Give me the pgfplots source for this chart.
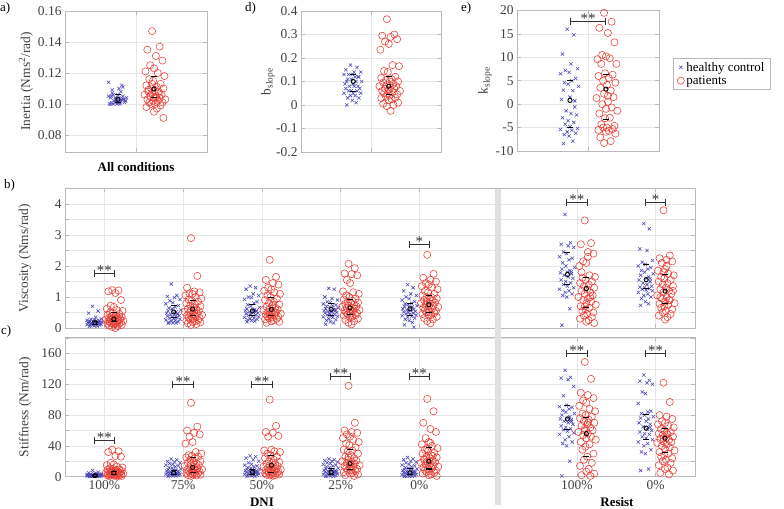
\documentclass[border=0pt]{standalone}
\usepackage{fontspec}
\setmainfont{Liberation Serif}
\usepackage{pgfplots}
\usepackage{pgfplotstable}
\pgfplotsset{compat=1.18}
\usetikzlibrary{arrows.meta}
\definecolor{hc}{RGB}{75,70,185}
\definecolor{ptc}{RGB}{232,60,50}
\definecolor{axgray}{RGB}{185,185,185}
\definecolor{gridgray}{RGB}{230,230,230}
\definecolor{txtgray}{RGB}{64,64,64}
\definecolor{sigc}{RGB}{50,50,50}

% healthy controls: one row per series (transposed below)
\pgfplotstableread[header=false,row sep=\\]{
dx -0.15 -0.08 -0.20 -0.11 -0.04 -0.17 -0.13 -0.22 -0.06 -0.10 -0.18 -0.14 -0.03 -0.19 -0.09 -0.12 -0.21 -0.07 -0.16 -0.11 -0.05 -0.20 -0.14 -0.08 -0.17 -0.12 -0.04 -0.22 -0.10 -0.15 -0.06 -0.18 -0.13 -0.09 -0.19 -0.07\\
ia 0.101 0.103 0.100 0.104 0.102 0.106 0.101 0.105 0.103 0.100 0.107 0.102 0.104 0.101 0.108 0.103 0.100 0.105 0.102 0.110 0.101 0.104 0.103 0.112 0.100 0.106 0.102 0.114 0.101 0.104 0.103 0.109 0.100 0.102 0.105 0.111\\
bs 0.17 0.16 0.15 0.14 0.14 0.13 0.13 0.13 0.12 0.12 0.11 0.11 0.10 0.10 0.10 0.09 0.09 0.08 0.08 0.08 0.07 0.07 0.06 0.06 0.06 0.05 0.05 0.05 0.04 0.04 0.03 0.03 0.02 0.01 0.00 0.12\\
ks 16.0 14.8 10.7 8.6 7.6 7.2 6.8 6.5 5.5 5.0 4.6 4.3 3.8 3.0 2.9 1.5 1.0 0.7 -1.4 -2.0 -2.3 -2.9 -3.5 -3.9 -4.3 -4.8 -5.2 -5.4 -5.6 -5.9 -6.2 -6.5 -6.8 -7.9 -8.4 -0.6\\
va 0.70 0.55 0.48 0.35 0.30 0.28 0.26 0.25 0.24 0.23 0.22 0.21 0.20 0.20 0.19 0.18 0.18 0.17 0.16 0.16 0.15 0.15 0.14 0.14 0.13 0.12 0.12 0.11 0.10 0.10 0.09 0.08 0.07 0.06 0.05 0.22\\
vb 1.42 1.05 1.02 0.98 0.92 0.88 0.82 0.78 0.72 0.68 0.65 0.62 0.58 0.55 0.52 0.50 0.48 0.46 0.44 0.42 0.40 0.38 0.36 0.34 0.32 0.30 0.28 0.26 0.24 0.22 0.20 0.18 0.17 0.16 0.15 0.45\\
vc 1.35 1.30 1.25 1.10 1.05 1.00 0.98 0.92 0.85 0.80 0.75 0.70 0.66 0.62 0.60 0.58 0.56 0.54 0.52 0.50 0.48 0.46 0.44 0.42 0.40 0.38 0.36 0.34 0.32 0.30 0.28 0.26 0.24 0.22 0.20 0.55\\
vd 1.28 1.25 1.00 0.95 0.90 0.85 0.82 0.78 0.75 0.72 0.70 0.68 0.65 0.62 0.60 0.58 0.56 0.55 0.53 0.51 0.50 0.48 0.46 0.44 0.42 0.40 0.38 0.36 0.34 0.30 0.27 0.24 0.20 0.16 0.12 0.60\\
ve 1.40 1.30 1.20 1.10 1.05 1.00 0.95 0.90 0.85 0.80 0.78 0.75 0.72 0.70 0.68 0.65 0.62 0.60 0.58 0.56 0.54 0.52 0.50 0.48 0.46 0.44 0.42 0.40 0.38 0.35 0.32 0.28 0.24 0.18 0.10 0.03\\
vf 3.66 2.75 2.70 2.65 2.60 2.45 2.40 2.30 2.25 2.20 2.10 2.00 1.95 1.90 1.85 1.80 1.78 1.75 1.70 1.65 1.60 1.55 1.50 1.45 1.40 1.35 1.30 1.25 1.20 1.15 1.10 1.05 1.00 0.62 0.09 1.82\\
vg 3.37 3.20 2.55 2.50 2.18 2.12 2.05 2.00 1.95 1.90 1.85 1.80 1.75 1.70 1.65 1.60 1.55 1.50 1.45 1.40 1.35 1.32 1.30 1.27 1.25 1.22 1.20 1.15 1.10 1.05 1.00 0.95 0.85 0.78 0.73 1.60\\
sa 8 6 5 4.5 4 3.5 3.2 3 2.8 2.6 2.4 2.2 2 2 1.8 1.8 1.6 1.6 1.5 1.4 1.4 1.3 1.2 1.2 1.1 1.0 1.0 0.9 0.8 0.8 0.7 0.6 0.5 0.4 0.3 1.5\\
sb 23 22 20 19 18 17 16 15 14 13 12 11 10 9 8.5 8 7.5 7 6.5 6 5.5 5 5 4.5 4 3.5 3 3 2.5 2 2 1.5 1 1 0.5 4\\
sc 27 26 24 22 20 18 16 15 14 13 12 11 10 9.5 9 8.5 8 7.5 7 6.5 6 5.5 5 5 4.5 4 3.5 3 2.5 2 2 1.5 1 0.5 0.5 6\\
sd 23 22 21 20 19 18 17 16 15 14 13 12 11 10 9.5 9 8.5 8 7.5 7 6.5 6 5.5 5 4.5 4 3.5 3 2.5 2 1.5 1 1 0.5 0.5 6\\
se 25 23 22 20 19 18 16 15 14 13 12 11 10 9.5 9 8.5 8 7.5 7 6.5 6 5.5 5 4.5 4 3.5 3 2.5 2 1.5 1 1 0.5 0.5 0.3 5\\
sf 138 129 128 126 117 105 93 91 90 88 86 84 82 80 78 76 75 74 72 70 68 66 64 62 61 59 57 55 52 48 45 43 40 20 1 72\\
sg 132 125 124 122 120 110 108 95 85 84 82 80 78 76 75 72 70 68 65 62 60 58 56 55 52 50 48 45 43 40 35 32 30 10 8 64\\
}\hcraw
\pgfplotstabletranspose[colnames from=0]\hctab\hcraw

% patients
\pgfplotstableread[header=false,row sep=\\]{
dx 0.10 0.18 0.05 0.14 0.21 0.08 0.12 0.03 0.16 0.23 0.07 0.11 0.19 0.04 0.15 0.09 0.22 0.13 0.06 0.17 0.10 0.20 0.02 0.14 0.08 0.18 0.12 0.24 0.05 0.16 0.11 0.07 0.21 0.13 0.09 0.19 0.04 0.15 0.12 0.22 0.06 0.17 0.10 0.14\\
ia 0.147 0.137 0.135 0.131 0.128 0.125 0.123 0.121 0.120 0.118 0.116 0.115 0.113 0.112 0.111 0.110 0.110 0.109 0.108 0.108 0.107 0.106 0.106 0.105 0.105 0.104 0.104 0.103 0.103 0.102 0.102 0.101 0.101 0.100 0.100 0.099 0.098 0.097 0.095 0.091 0.109 0.107 0.113 0.104\\
bs 0.365 0.30 0.295 0.29 0.28 0.27 0.26 0.235 0.17 0.165 0.145 0.14 0.12 0.115 0.11 0.105 0.10 0.10 0.095 0.09 0.085 0.08 0.08 0.075 0.07 0.07 0.065 0.06 0.06 0.055 0.05 0.05 0.045 0.04 0.035 0.03 0.03 0.025 0.02 0.01 0.005 0.0 -0.005 -0.025\\
ks 19.5 17.6 16.3 15.2 13.2 10.5 10.2 9.6 9.8 8.6 8.6 6.6 6.3 6.0 5.6 5.0 4.6 4.1 3.5 2.9 2.2 1.5 1.3 0.5 0.0 -0.7 -1.0 -1.4 -2.0 -2.9 -3.0 -4.3 -4.6 -5.0 -5.0 -5.3 -5.5 -5.7 -5.9 -6.3 -7.1 -7.9 -8.3 1.8\\
va 1.22 1.21 1.18 1.13 0.90 0.72 0.68 0.62 0.58 0.55 0.50 0.48 0.45 0.42 0.40 0.38 0.36 0.35 0.33 0.32 0.30 0.29 0.28 0.27 0.26 0.25 0.24 0.23 0.22 0.21 0.20 0.19 0.18 0.17 0.16 0.15 0.14 0.13 0.12 0.10 0.08 0.06 0.03 0.00\\
vb 2.90 1.68 1.30 1.18 1.15 1.12 1.10 1.05 1.00 0.95 0.92 0.88 0.85 0.80 0.76 0.72 0.70 0.66 0.62 0.60 0.58 0.55 0.52 0.50 0.48 0.46 0.44 0.42 0.40 0.38 0.36 0.34 0.32 0.30 0.28 0.26 0.24 0.22 0.20 0.18 0.15 0.13 0.10 0.55\\
vc 2.20 1.65 1.55 1.45 1.40 1.30 1.25 1.20 1.15 1.10 1.05 1.00 0.95 0.90 0.85 0.80 0.76 0.72 0.68 0.65 0.62 0.60 0.58 0.55 0.52 0.50 0.48 0.46 0.44 0.42 0.40 0.38 0.36 0.34 0.32 0.30 0.28 0.25 0.22 0.20 0.17 0.50 0.45 0.75\\
vd 2.07 1.93 1.76 1.74 1.70 1.55 1.45 1.18 1.15 1.10 1.05 1.00 0.95 0.92 0.88 0.85 0.82 0.80 0.78 0.75 0.72 0.70 0.68 0.66 0.64 0.62 0.60 0.58 0.56 0.54 0.52 0.50 0.48 0.46 0.44 0.42 0.40 0.37 0.34 0.30 0.26 0.22 0.17 0.12\\
ve 2.36 1.75 1.62 1.55 1.50 1.45 1.40 1.35 1.30 1.25 1.20 1.15 1.10 1.05 1.00 0.98 0.95 0.92 0.90 0.88 0.85 0.82 0.80 0.78 0.75 0.72 0.70 0.68 0.65 0.62 0.60 0.58 0.55 0.52 0.50 0.48 0.45 0.42 0.40 0.36 0.32 0.28 0.22 0.15\\
vf 3.47 2.74 2.70 2.45 2.40 2.15 2.10 2.00 1.70 1.65 1.62 1.55 1.50 1.45 1.40 1.35 1.30 1.25 1.20 1.15 1.10 1.05 1.00 0.95 0.90 0.85 0.80 0.75 0.70 0.65 0.60 0.55 0.50 0.45 0.40 0.35 0.30 0.25 0.20 0.16 1.80 1.00 0.70 2.30\\
vg 3.80 2.34 2.25 2.20 2.15 2.10 1.90 1.85 1.75 1.70 1.65 1.60 1.55 1.50 1.45 1.40 1.35 1.30 1.25 1.20 1.15 1.10 1.05 1.00 0.95 0.90 0.85 0.80 0.78 0.75 0.70 0.65 0.60 0.55 0.50 0.45 0.40 0.35 0.27 1.20 1.00 0.90 1.80 2.00\\
sa 35 33 32 27 26 18 16 15 13 12 11 10 9.5 9 8.5 8 7.5 7 6.5 6 6 5.5 5 5 4.5 4.5 4 4 3.5 3.5 3 3 2.8 2.5 2.2 2 1.8 1.5 1.2 1.0 0.8 0.5 6 7\\
sb 96 65 60 57 55 52 45 43 32 30 28 27 26 25 24 22 20 19 18 17 16 15 14 13 12 11 10 9.5 9 8.5 8 7 6.5 6 5 4.5 4 3.5 3 2.5 2 1.5 1 10\\
sc 100 66 58 57 53 52 35 34 33 32 30 28 26 24 22 20 19 18 17 16 15 14 13 12 11 10 9.5 9 8.5 8 7.5 7 6.5 6 5.5 5 4.5 4 3.5 3 2.5 2 1.5 1\\
sd 118 70 60 58 57 55 52 50 48 45 43 41 38 35 34 33 30 28 26 24 22 21 20 19 18 17 16 15 14 13 12 11 10 9 8 7 6 5 4 3 2 1 25 12\\
se 101 85 70 62 58 50 45 42 40 37 35 33 31 30 28 26 25 24 22 21 20 19 18 17 16 15 14 13 12 11 10 9 8 7 6 5 4 3 2 1 23 27 36 44\\
sf 149 127 109 106 102 99 96 92 88 85 82 80 78 76 74 72 70 68 66 64 62 60 58 56 54 52 50 48 45 42 39 35 30 26 22 18 14 10 6.5 4 2 1 60 70\\
sg 122 97 80 78 75 72 70 68 66 64 62 60 58 56 55 54 52 50 49 48 46 45 44 42 40 38 36 34 32 30 28 26 24 22 20 18 15 12 10 8 5 3 50 57\\
}\ptraw
\pgfplotstabletranspose[colnames from=0]\pttab\ptraw

\pgfplotsset{
  base/.style={
    scale only axis,
    axis line style={axgray, line width=0.6pt},
    tick style={axgray, line width=0.6pt},
    tick align=inside, tick pos=both,
    major tick length=4pt, minor tick length=4pt,
    grid=both,
    major grid style={gridgray, line width=0.5pt},
    minor grid style={gridgray, line width=0.5pt},
    ticklabel style={font=\fontsize{13.5}{15}\selectfont, text=txtgray},
    label style={font=\fontsize{13.5}{15}\selectfont, text=txtgray},
    /pgf/number format/assume math mode=true,
    scaled ticks=false,
  },
  hcs/.style={only marks, mark=x, mark size=2.3pt, color=hc, mark options={line width=0.55pt}},
  pts/.style={only marks, mark=o, mark size=3.6pt, color=ptc, mark options={line width=0.55pt}},
  meanm/.style={only marks, mark=o, mark size=2.1pt, color=black, mark options={line width=0.9pt}},
  barm/.style={only marks, mark=-, mark size=3pt, color=black, mark options={line width=1.1pt}},
}
\newcommand\HC[2]{\addplot[hcs] table[x expr=\thisrow{dx}+#1, y=#2] {\hctab};}
\newcommand\PT[2]{\addplot[pts] table[x expr=\thisrow{dx}+#1, y=#2] {\pttab};}
\newcommand\sig[5]{\draw[sigc, line width=1pt, {Bar[width=7pt]}-{Bar[width=7pt]}] (axis cs:#1,#4) -- (axis cs:#2,#4);
  \node[text=sigc, anchor=base, inner sep=0pt, yshift=-2pt, font=\fontsize{15}{15}\selectfont] at (axis cs:#3,#4) {#5};}

\begin{document}
\begin{tikzpicture}
\useasboundingbox (0,0) rectangle (784bp,509bp);

% ---------- a) Inertia
\begin{axis}[base, at={(65bp,357bp)}, anchor=south west, width=142bp, height=141bp,
  xmin=-0.75, xmax=0.75, ymin=0.069, ymax=0.16, xtick={0}, xticklabels={,},
  ytick={0.08,0.10,0.12,0.14,0.16},
  yticklabel style={/pgf/number format/.cd, fixed, fixed zerofill, precision=2},
  ylabel={Inertia (Nms\textsuperscript{2}/rad)},
  ylabel style={at={(axis description cs:-0.275,0.5)}, anchor=center}]
\HC{-0.07}{ia}
\PT{0.07}{ia}
\addplot[barm] coordinates {(-0.19,0.106)(-0.19,0.101)(0.19,0.118)(0.19,0.104)};
\addplot[meanm] coordinates {(-0.19,0.103)(0.19,0.1097)};
\end{axis}

% ---------- d) b_slope
\begin{axis}[base, at={(301bp,357bp)}, anchor=south west, width=140bp, height=141bp,
  xmin=-0.75, xmax=0.75, ymin=-0.2, ymax=0.4, xtick={0}, xticklabels={,},
  ytick={-0.2,-0.1,0,0.1,0.2,0.3,0.4},
  ylabel={b\textsubscript{slope}},
  ylabel style={at={(axis description cs:-0.236,0.5)}, anchor=center}]
\HC{-0.07}{bs}
\PT{0.07}{bs}
\addplot[barm] coordinates {(-0.19,0.13)(-0.19,0.057)(0.19,0.123)(0.19,0.043)};
\addplot[meanm] coordinates {(-0.19,0.10)(0.19,0.08)};
\end{axis}

% ---------- e) k_slope
\begin{axis}[base, at={(517bp,358bp)}, anchor=south west, width=142bp, height=140.5bp,
  xmin=-0.75, xmax=0.75, ymin=-10, ymax=20, xtick={0}, xticklabels={,},
  ytick={-10,-5,0,5,10,15,20},
  ylabel={k\textsubscript{slope}},
  ylabel style={at={(axis description cs:-0.225,0.5)}, anchor=center},
  legend style={at={(rel axis cs:1.099,0.662)}, anchor=north west, draw=axgray, fill=white,
    font=\fontsize{13}{15}\selectfont, text=black, inner xsep=4pt, inner ysep=2pt, row sep=-1pt},
  legend cell align=left]
\HC{-0.07}{ks}
\addlegendentry{healthy control}
\PT{0.07}{ks}
\addlegendentry{patients}
\addplot[barm, forget plot] coordinates {(-0.19,5.1)(-0.19,-5.0)(0.19,6.3)(0.19,-3.2)};
\addplot[meanm, forget plot] coordinates {(-0.19,0.8)(0.19,3.2)};
\sig{-0.19}{0.19}{0}{17.7}{**}
\end{axis}

% ---------- b) Viscosity
\begin{axis}[base, at={(65bp,181bp)}, anchor=south west, width=630bp, height=139.5bp,
  xmin=-0.5, xmax=7.5, ymin=0, ymax=4.5,
  xtick={0,1,2,3,4,6,7}, xticklabels={,,,,,,,},
  ytick={0,1,2,3,4}, minor ytick={0.5,1.5,2.5,3.5},
  ylabel={Viscosity (Nms/rad)},
  ylabel style={at={(axis description cs:-0.0635,0.5)}, anchor=center}]
\HC{0}{va}\HC{1}{vb}\HC{2}{vc}\HC{3}{vd}\HC{4}{ve}\HC{6}{vf}\HC{7}{vg}
\PT{0}{va}\PT{1}{vb}\PT{2}{vc}\PT{3}{vd}\PT{4}{ve}\PT{6}{vf}\PT{7}{vg}
\addplot[barm] coordinates {(-0.12,0.22)(-0.12,0.12)(0.88,0.72)(0.88,0.35)(1.88,0.75)(1.88,0.40)(2.88,0.78)(2.88,0.40)(3.88,0.78)(3.88,0.40)(5.88,2.45)(5.88,1.40)(6.88,2.05)(6.88,1.27)
  (0.12,0.50)(0.12,0.20)(1.12,0.88)(1.12,0.40)(2.12,0.98)(2.12,0.40)(3.12,0.92)(3.12,0.45)(4.12,1.05)(4.12,0.50)(6.12,1.62)(6.12,0.65)(7.12,1.73)(7.12,0.78)};
\addplot[meanm] coordinates {(-0.12,0.17)(0.88,0.52)(1.88,0.55)(2.88,0.60)(3.88,0.62)(5.88,1.73)(6.88,1.56)
  (0.12,0.29)(1.12,0.61)(2.12,0.60)(3.12,0.65)(4.12,0.75)(6.12,1.27)(7.12,1.19)};
\sig{-0.135}{0.135}{0}{1.75}{**}
\sig{3.865}{4.135}{4}{2.7}{*}
\sig{5.865}{6.135}{6}{4.06}{**}
\sig{6.865}{7.135}{7}{4.06}{*}
\end{axis}

% ---------- c) Stiffness
\begin{axis}[base, at={(65bp,32.3bp)}, anchor=south west, width=630bp, height=139.4bp,
  xmin=-0.5, xmax=7.5, ymin=0, ymax=181,
  xtick={0,1,2,3,4,6,7}, xticklabels={100\%,75\%,50\%,25\%,0\%,100\%,0\%},
  ytick={0,40,80,120,160}, minor ytick={20,60,100,140,180},
  ylabel={Stiffness (Nm/rad)},
  ylabel style={at={(axis description cs:-0.0635,0.5)}, anchor=center}]
\HC{0}{sa}\HC{1}{sb}\HC{2}{sc}\HC{3}{sd}\HC{4}{se}\HC{6}{sf}\HC{7}{sg}
\PT{0}{sa}\PT{1}{sb}\PT{2}{sc}\PT{3}{sd}\PT{4}{se}\PT{6}{sf}\PT{7}{sg}
\addplot[barm] coordinates {(-0.12,3)(-0.12,0.8)(0.88,8)(0.88,3)(1.88,9)(1.88,3)(2.88,11)(2.88,3)(3.88,11)(3.88,3)(5.88,93)(5.88,61)(6.88,81)(6.88,48)
  (0.12,7)(0.12,3)(1.12,25)(1.12,6)(2.12,28)(2.12,5)(3.12,35)(3.12,9)(4.12,38)(4.12,10)(6.12,77)(6.12,26)(7.12,62)(7.12,31)};
\addplot[meanm] coordinates {(-0.12,1.5)(0.88,5)(1.88,6)(2.88,6)(3.88,5)(5.88,75)(6.88,63)
  (0.12,5)(1.12,12)(2.12,15)(3.12,17)(4.12,20)(6.12,56)(7.12,50)};
\sig{-0.135}{0.135}{0}{47}{**}
\sig{0.865}{1.135}{1}{120}{**}
\sig{1.865}{2.135}{2}{120}{**}
\sig{2.865}{3.135}{3}{130}{**}
\sig{3.865}{4.135}{4}{130}{**}
\sig{5.865}{6.135}{6}{160}{**}
\sig{6.865}{7.135}{7}{160}{**}
\end{axis}

\fill[black!12] (495bp,4bp) rectangle (501bp,320bp);

\node[anchor=west, inner sep=0pt, font=\fontsize{13}{15}\selectfont] at (0bp,501bp) {a)};
\node[anchor=west, inner sep=0pt, font=\fontsize{13}{15}\selectfont] at (245bp,501bp) {d)};
\node[anchor=west, inner sep=0pt, font=\fontsize{13}{15}\selectfont] at (461bp,501bp) {e)};
\node[anchor=west, inner sep=0pt, font=\fontsize{13}{15}\selectfont] at (4bp,324bp) {b)};
\node[anchor=west, inner sep=0pt, font=\fontsize{13}{15}\selectfont] at (1bp,178bp) {c)};
\node[font=\fontsize{13}{15}\selectfont\bfseries] at (136bp,342bp) {All conditions};
\node[font=\fontsize{13}{15}\selectfont\bfseries] at (262bp,7bp) {DNI};
\node[font=\fontsize{13}{15}\selectfont\bfseries] at (617bp,7bp) {Resist};
\end{tikzpicture}
\end{document}
